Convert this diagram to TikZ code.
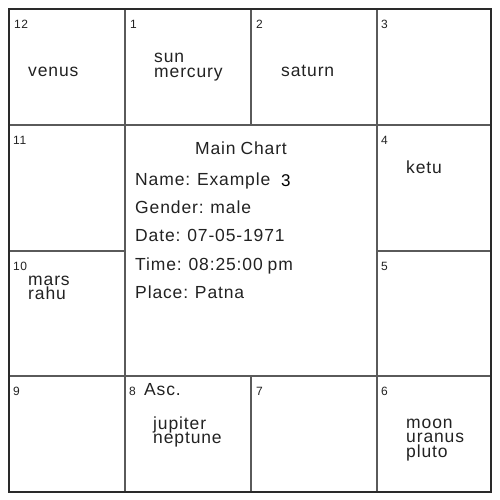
\documentclass[tikz,border=0pt]{standalone}
\usepackage{fontspec}
\setmainfont{Liberation Sans}[LetterSpace=5,WordSpace=0.85]
\newfontfamily\plainfont{Liberation Sans}
\definecolor{txt}{HTML}{222222}
\definecolor{gridc}{HTML}{5A5A5A}
\definecolor{outerc}{HTML}{2A2A2A}
\newcommand\plist[1]{\vtop{\baselineskip=14.5pt\lineskiplimit=-20pt #1}}
\begin{document}
\begin{tikzpicture}[x=1pt,y=-1pt,
  num/.style={anchor=base west,inner sep=0pt,text=txt,font=\fontsize{12}{12}\selectfont},
  pl/.style={anchor=base west,inner sep=0pt,text=txt,font=\fontsize{17.5}{14.5}\selectfont},
  info/.style={anchor=base west,inner sep=0pt,text=txt,font=\fontsize{17.5}{17}\selectfont},
  inner/.style={draw=gridc,line width=2pt},
  outer/.style={draw=outerc,line width=2.6pt}]
\useasboundingbox (0,0) rectangle (500,500);
\fill[white] (0,0) rectangle (500,500);
% grid
\coordinate (tl) at (9,9);
\coordinate (br) at (491,492);
\draw[inner] (125,9) -- (125,492);
\draw[inner] (377,9) -- (377,492);
\draw[inner] (251,9) -- (251,125);
\draw[inner] (251,376) -- (251,492);
\draw[inner] (9,125) -- (491,125);
\draw[inner] (9,376) -- (491,376);
\draw[inner] (9,251) -- (125,251);
\draw[inner] (377,251) -- (491,251);
\draw[outer] (tl) rectangle (br);
% house numbers
\node[num] (h12) at (14,29) {12};
\node[num] (h1) at (130,29) {1};
\node[num] (h2) at (256,29) {2};
\node[num] (h3) at (381,29) {3};
\node[num] (h11) at (13,144) {11};
\node[num] (h4) at (381,144) {4};
\node[num] (h10) at (13,270) {10};
\node[num] (h5) at (381,270) {5};
\node[num] (h9) at (13,395) {9};
\node[num] (h8) at (129,395) {8};
\node[num] (h7) at (256,395) {7};
\node[num] (h6) at (381,395) {6};
% planets
\node[pl] (p12) at (28,77) {venus};
\node[pl] (p1) at (154,63) {\plist{\hbox{sun}\hbox{mercury}}};
\node[pl] (p2) at (281,77) {saturn};
\node[pl] (p4) at (406,173) {ketu};
\node[pl] (p10) at (28,285) {\plist{\hbox{mars}\hbox{rahu}}};
\node[pl] (asc) at (144,395) {Asc.};
\node[pl] (p8) at (153,429) {\plist{\hbox{jupiter}\hbox{neptune}}};
\node[pl] (p6) at (406,428) {\plist{\hbox{moon}\hbox{uranus}\hbox{pluto}}};
% centre info
\node[info,anchor=base] (title) at (241,154) {Main Chart};
\node[info] (name) at (135,185) {Name: Example};
\node[anchor=base west,inner sep=0pt,text=black,font=\plainfont\fontsize{17}{17}\selectfont] (three) at (281,186) {3};
\node[info] (gender) at (135,213) {Gender: male};
\node[info] (date) at (135,241) {Date: 07-05-1971};
\node[info] (time) at (135,270) {Time: 08:25:00 pm};
\node[info] (place) at (135,298) {Place: Patna};
\end{tikzpicture}
\end{document}
